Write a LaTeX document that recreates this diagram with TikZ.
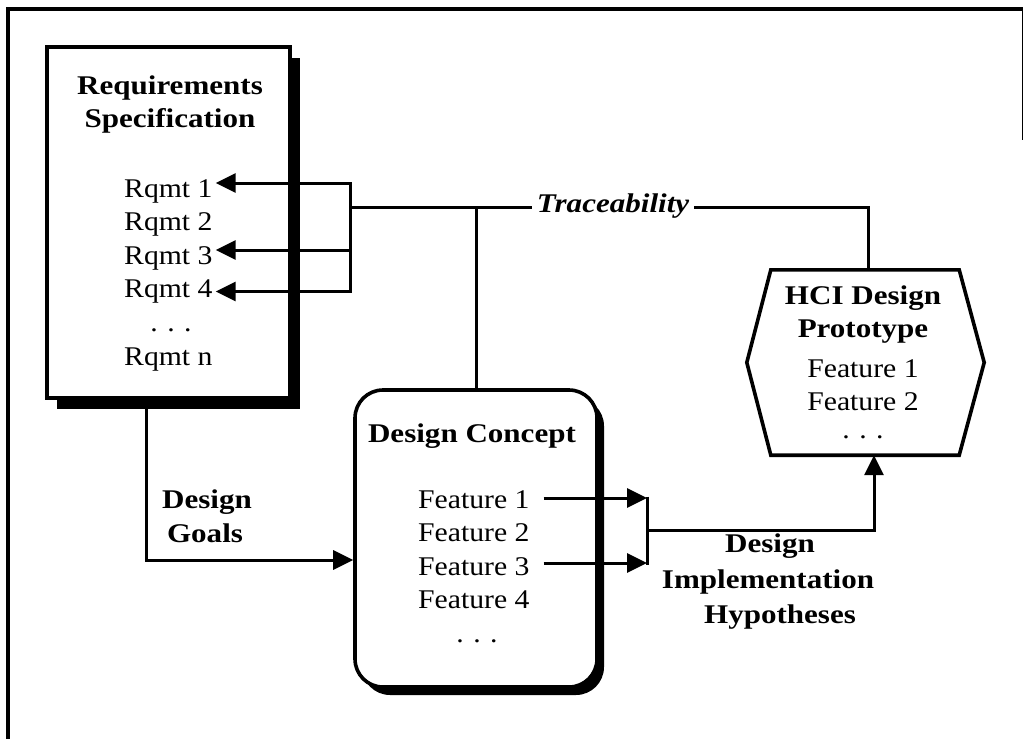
\documentclass[tikz,border=0pt]{standalone}
\usepackage{fontspec}
\setmainfont{Liberation Serif}[FakeStretch=1.1,
  BoldFeatures={FakeStretch=1.15}, BoldItalicFeatures={FakeStretch=1.15}]
\usetikzlibrary{arrows.meta,shadows,calc}

\tikzset{
  txt/.style={font=\fontsize{27}{30}\selectfont, inner sep=0pt},
  btxt/.style={font=\fontsize{27}{30}\selectfont\bfseries, inner sep=0pt},
  boxline/.style={draw=black, line width=3.6pt, fill=white},
  conn/.style={draw=black, line width=3pt},
  arrowline/.style={conn, -{Triangle[length=20pt,width=19pt]}},
  bigshadow/.style={drop shadow={shadow xshift=10pt, shadow yshift=-11pt, opacity=1, fill=black}},
  smallshadow/.style={drop shadow={shadow xshift=7pt, shadow yshift=-8pt, opacity=1, fill=black}},
}

\begin{document}
\begin{tikzpicture}[x=1pt,y=-1pt]
\useasboundingbox (0,0) rectangle (1024,738);

% outer frame (its bottom runs past the lower edge)
\draw[line width=3.2pt] (8,760) -- (8,9) -- (1022.5,9);
\draw[line width=1.8pt] (1022.5,9) -- (1022.5,140);

% ---------- Requirements Specification ----------
\node[boxline, bigshadow, minimum width=243, minimum height=351] (req) at (168.5,222.5) {};
\node[btxt, anchor=base] (reqt1) at (170,95) {Requirements};
\node[btxt, anchor=base] (reqt2) at (170,128) {Specification};
\node[txt, anchor=base west] (rq1) at (124,197) {Rqmt 1};
\node[txt, anchor=base west] (rq2) at (124,230.5) {Rqmt 2};
\node[txt, anchor=base west] (rq3) at (124,264) {Rqmt 3};
\node[txt, anchor=base west] (rq4) at (124,297.5) {Rqmt 4};
\node[txt, anchor=base] (rqdots) at (171,331) {.\hspace{0.35em}.\hspace{0.35em}.};
\node[txt, anchor=base west] (rqn) at (124,365) {Rqmt n};

% ---------- Design Concept ----------
\node[boxline, smallshadow, rounded corners=28pt, minimum width=242, minimum height=297] (dc) at (476,538.5) {};
\node[btxt, anchor=base] (dct) at (472,442) {Design Concept};
\node[txt, anchor=base west] (f1) at (418,508) {Feature 1};
\node[txt, anchor=base west] (f2) at (418,541.5) {Feature 2};
\node[txt, anchor=base west] (f3) at (418,575) {Feature 3};
\node[txt, anchor=base west] (f4) at (418,608.5) {Feature 4};
\node[txt, anchor=base] (fdots) at (477,642) {.\hspace{0.35em}.\hspace{0.35em}.};

% ---------- HCI Design Prototype (hexagon) ----------
\node[minimum width=188, minimum height=185, inner sep=0pt] (hci) at (865,362.5) {};
\fill[black, shift={(7,8)}] (hci.north west) -- (hci.north east) -- ([xshift=25pt]hci.east)
  -- (hci.south east) -- (hci.south west) -- ([xshift=-24pt]hci.west) -- cycle;
\path[boxline] (hci.north west) -- (hci.north east) -- ([xshift=25pt]hci.east)
  -- (hci.south east) -- (hci.south west) -- ([xshift=-24pt]hci.west) -- cycle;
\node[btxt, anchor=base] (hcit1) at (863,304) {HCI Design};
\node[btxt, anchor=base] (hcit2) at (863,337) {Prototype};
\node[txt, anchor=base] (hf1) at (863,377) {Feature 1};
\node[txt, anchor=base] (hf2) at (863,410) {Feature 2};
\node[txt, anchor=base] (hdots) at (863,438) {.\hspace{0.35em}.\hspace{0.35em}.};

% ---------- Traceability links ----------
\node[font=\fontsize{27}{30}\selectfont\bfseries\itshape, inner sep=5pt, anchor=base] (trace) at (613,212) {Traceability};
\coordinate (brq) at (350,207);
\coordinate (hcitop) at (868,207);
\draw[arrowline] (brq) |- ($(rq1.base east)+(3,-14)$);
\draw[arrowline] (brq) |- ($(rq3.base east)+(3,-14)$);
\draw[arrowline] (brq) |- ($(rq4.base east)+(3,-6)$);
\draw[conn] (brq) -- (brq -| trace.west);
\draw[conn] (trace.east |- brq) -- (hcitop) -- (hcitop |- hci.north);
\draw[conn] (dc.north |- brq) -- (dc.north);

% ---------- Design Goals ----------
\coordinate (gbend) at (146,560);
\draw[arrowline] (req.south -| gbend) -- (gbend) -- (gbend -| dc.west);
\node[btxt, anchor=base] (goal1) at (207,508) {Design};
\node[btxt, anchor=base] (goal2) at (205,542) {Goals};

% ---------- Design Implementation Hypotheses ----------
\coordinate (bdc) at (647,530);
\coordinate (hup) at (874,530);
\draw[arrowline] ($(f1.base east)+(14,-10)$) -- ($(f1.base east -| bdc)+(0,-10)$);
\draw[arrowline] ($(f3.base east)+(14,-12)$) -- ($(f3.base east -| bdc)+(0,-12)$);
\draw[conn] ($(f1.base east -| bdc)+(0,-11.5)$) -- ($(f3.base east -| bdc)+(0,-10.5)$);
\draw[arrowline] (bdc) -- (hup) -- (hup |- hci.south);
\node[btxt, anchor=base] (dih1) at (770,552) {Design};
\node[btxt, anchor=base] (dih2) at (768,588) {Implementation};
\node[btxt, anchor=base] (dih3) at (780,623) {Hypotheses};
\end{tikzpicture}
\end{document}
